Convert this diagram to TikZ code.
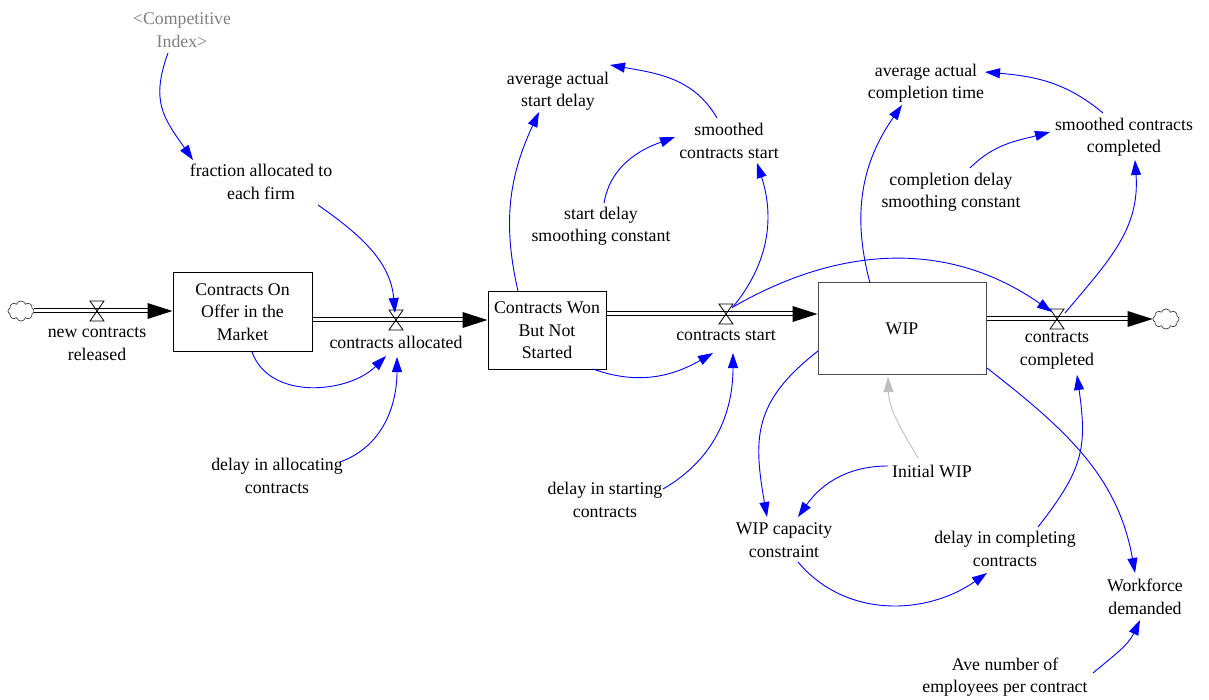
\documentclass[tikz,border=0pt]{standalone}
\usepackage{fontspec}
\setmainfont{Liberation Serif}
\usetikzlibrary{arrows.meta,shapes.symbols,calc}
\begin{document}
\begin{tikzpicture}[x=1pt,y=1pt,
  txt/.style={align=center,font=\rmfamily\fontsize{17.8}{22.5}\selectfont,inner sep=1pt},
  shadowtxt/.style={txt,text=black!50},
  stock/.style={txt,draw=black,line width=1pt,inner sep=2pt},
  link/.style={draw=blue,line width=0.9pt,-{Triangle[length=15pt,width=10pt]}},
  initlink/.style={link,draw=black!25},
  pipe/.style={draw=black,line width=1pt,double=white,double distance=3pt},
  cloudsrc/.style={cloud,cloud puffs=8,cloud puff arc=140,aspect=1.2,draw=black!75,line width=0.7pt,minimum width=26pt,minimum height=20pt,inner sep=0pt},
  valve/.pic={\draw[line width=0.8pt] (-7,-10) -- (7,-10) -- (-7,10) -- (7,10) -- cycle;}
]
\fill[white] (0,0) rectangle (1209,-700);
\useasboundingbox (0,0) rectangle (1209,-700);

% stocks
\node[stock,minimum width=139pt,minimum height=78pt] (coo) at (242.5,-312) {Contracts On\\Offer in the\\Market};
\node[stock,minimum width=118pt,minimum height=77pt] (cw) at (547,-330.5) {Contracts Won\\But Not\\Started};
\node[stock,draw=black!70,minimum width=168pt,minimum height=91pt] (wip) at (902,-328.5) {WIP};

% clouds
\node[cloudsrc] (c1) at (21,-311) {};
\node[cloudsrc] (c2) at (1166,-319) {};

% valve positions
\coordinate (v1) at (97,-311);
\coordinate (v2) at (396,-320);
\coordinate (v3) at (726,-314);
\coordinate (v4) at (1057,-319);

% pipes
\draw[pipe] (c1.east) -- ($(coo.west|-v1)+(-24,0)$);
\fill ($(coo.west|-v1)$) -- ++(-25,8) -- ++(0,-16) -- cycle;
\draw[pipe] (coo.east|-v2) -- ($(cw.west|-v2)+(-24,0)$);
\fill ($(cw.west|-v2)$) -- ++(-25,8) -- ++(0,-16) -- cycle;
\draw[pipe] (cw.east|-v3) -- ($(wip.west|-v3)+(-24,0)$);
\fill ($(wip.west|-v3)$) -- ++(-25,8) -- ++(0,-16) -- cycle;
\draw[pipe] (wip.east|-v4) -- ($(c2.west|-v4)+(-24,0)$);
\fill ($(c2.west|-v4)$) -- ++(-25,8) -- ++(0,-16) -- cycle;

\pic at (v1) {valve};
\pic at (v2) {valve};
\pic at (v3) {valve};
\pic at (v4) {valve};

% flow labels
\node[txt] (l1) at (97,-344) {new contracts\\released};
\node[txt] (l2) at (396,-342) {contracts allocated};
\node[txt] (l3) at (726,-336) {contracts start};
\node[txt] (l4) at (1057,-351) {contracts\\completed};

% auxiliaries
\node[shadowtxt] (ci) at (182,-30) {<Competitive\\Index>};
\node[txt] (fa) at (261,-182) {fraction allocated to\\each firm};
\node[txt] (dal) at (277,-476) {delay in allocating\\contracts};
\node[txt] (aasd) at (558,-91) {average actual\\start delay};
\node[txt] (scs) at (729,-141) {smoothed\\contracts start};
\node[txt] (sdsc) at (601,-226) {start delay\\smoothing constant};
\node[txt] (dis) at (605,-500) {delay in starting\\contracts};
\node[txt] (aact) at (926,-83) {average actual\\completion time};
\node[txt] (scc) at (1124,-137) {smoothed contracts\\completed};
\node[txt] (cdsc) at (951,-192) {completion delay\\smoothing constant};
\node[txt] (iw) at (932,-471) {Initial WIP};
\node[txt] (wcc) at (784,-540) {WIP capacity\\constraint};
\node[txt] (dic) at (1005,-549) {delay in completing\\contracts};
\node[txt] (wd) at (1145,-597) {Workforce\\demanded};
\node[txt] (ane) at (1005,-677) {Ave number of\\employees per contract};

% links
\draw[link] ([shift={(-14,-23)}]ci.center) to[out=-110,in=125,looseness=1.2] ([shift={(-68,22)}]fa.center);
\draw[link] ([shift={(57,-23)}]fa.center) to[out=-35,in=95] ([shift={(-1,7)}]v2);
\draw[link] ([shift={(9.5,-40)}]coo.center) to[out=-70,in=225] ([shift={(-10,-36)}]v2);
\draw[link] ([shift={(63,14)}]dal.center) to[out=20,in=-90] ([shift={(1,-37)}]v2);
\draw[link] ([shift={(-29,39.5)}]cw.center) to[out=103,in=-115] ([shift={(-19,-21)}]aasd.center);
\draw[link] ([shift={(-12,23)}]scs.center) to[out=120,in=-10] ([shift={(52,26)}]aasd.center);
\draw[link] ([shift={(3,23)}]sdsc.center) to[out=80,in=200] ([shift={(-54,4)}]scs.center);
\draw[link] ([shift={(6,6)}]v3) to[out=50,in=-72] ([shift={(28,-22)}]scs.center);
\draw[link] ([shift={(46,-38.5)}]cw.center) to[out=-20,in=210] ([shift={(-13,-39)}]v3);
\draw[link] ([shift={(58,11)}]dis.center) to[out=30,in=-90] ([shift={(7,-39)}]v3);
\draw[link] ([shift={(7,7)}]v3) to[out=30,in=145] ([shift={(-5,7)}]v4);
\draw[link] ([shift={(-32,45.5)}]wip.center) to[out=105,in=235] ([shift={(-24,-22)}]aact.center);
\draw[link] ([shift={(-21,24)}]scc.center) to[out=140,in=-5] ([shift={(59,11)}]aact.center);
\draw[link] ([shift={(19,24)}]cdsc.center) to[out=45,in=195] ([shift={(-74,5)}]scc.center);
\draw[link] ([shift={(8,6)}]v4) to[out=50,in=-86,looseness=1.05] ([shift={(11,-23)}]scc.center);
\draw[link] ([shift={(-84,-22.5)}]wip.center) to[out=218,in=100,looseness=1.2] ([shift={(-17,23)}]wcc.center);
\draw[initlink] ([shift={(-14,13)}]iw.center) to[out=120,in=-88] ([shift={(-14,-48.5)}]wip.center);
\draw[link] ([shift={(-44,5)}]iw.center) to[out=180,in=55] ([shift={(14,23)}]wcc.center);
\draw[link] ([shift={(14,-22)}]wcc.center) to[out=-50,in=215] ([shift={(-18,-24)}]dic.center);
\draw[link] ([shift={(33,22)}]dic.center) to[out=52,in=-82,looseness=1.2] ([shift={(20,-56)}]v4);
\draw[link] ([shift={(85,-39.5)}]wip.center) to[out=-38,in=100] ([shift={(-10,24)}]wd.center);
\draw[link] ([shift={(88,4)}]ane.center) to[out=40,in=245] ([shift={(-5,-23)}]wd.center);
\end{tikzpicture}
\end{document}
